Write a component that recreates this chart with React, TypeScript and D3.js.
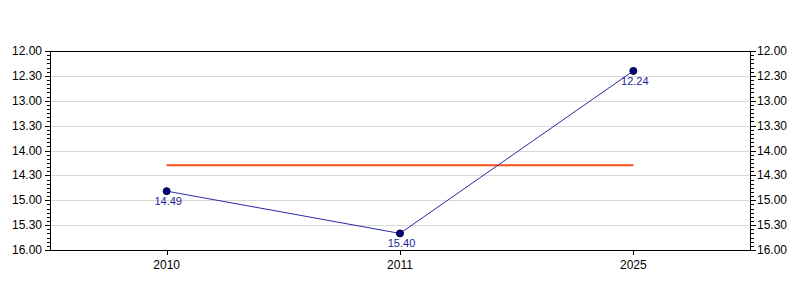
import React from "react";
import * as d3 from "d3";

const years = ["2010", "2011", "2025"];
const times = ["14.49", "15.40", "12.24"];
const yMinHour = 12;
const yMaxHour = 16;

const W = 800;
const H = 300;
const L = 50;
const R = 750;
const T = 51;
const B = 250;

function toMin(s: string): number {
  const [h, m] = s.split(".").map(Number);
  return h * 60 + m;
}
function fmt(v: number): string {
  const h = Math.floor(v / 60);
  const m = Math.round(v - h * 60);
  return `${h}.${String(m).padStart(2, "0")}`;
}

export default function App() {
  const x = d3.scaleBand<string>().domain(years).range([L, R]);
  const y = d3.scaleLinear().domain([yMinHour * 60, yMaxHour * 60]).range([T, B]);
  const vals = times.map(toMin);
  const avg = d3.mean(vals) as number;
  const cx = (d: string) => (x(d) as number) + x.bandwidth() / 2;

  const major = d3.range(yMinHour * 60, yMaxHour * 60 + 1, 30);
  const minor = d3.range(yMinHour * 60, yMaxHour * 60 + 1, 5).filter((v) => v % 30 !== 0);

  const line = d3
    .line<number>()
    .x((_, i) => cx(years[i]))
    .y((v) => y(v));

  const font = "Arial, 'Liberation Sans', sans-serif";

  return (
    <svg width={W} height={H} style={{ position: "absolute", left: 0, top: 0, background: "#fff" }} fontFamily={font}>
      <rect x={0} y={0} width={W} height={H} fill="#fff" />
      {major.slice(1, -1).map((v) => (
        <line key={"g" + v} x1={L} x2={R} y1={Math.round(y(v)) + 0.5} y2={Math.round(y(v)) + 0.5} stroke="#d9d9d9" />
      ))}
      {/* frame */}
      <rect x={L + 0.5} y={T + 0.5} width={R - L} height={B - T} fill="none" stroke="#000" />
      {/* left axis ticks */}
      {major.map((v) => (
        <g key={"lm" + v}>
          <line x1={L - 5} x2={L} y1={Math.round(y(v)) + 0.5} y2={Math.round(y(v)) + 0.5} stroke="#000" />
          <line x1={R} x2={R + 6} y1={Math.round(y(v)) + 0.5} y2={Math.round(y(v)) + 0.5} stroke="#000" />
          <text x={L - 8} y={y(v) + 4} fontSize={12} textAnchor="end" fill="#000">
            {fmt(v)}
          </text>
          <text x={R + 7} y={y(v) + 4} fontSize={12} textAnchor="start" fill="#000">
            {fmt(v)}
          </text>
        </g>
      ))}
      {minor.map((v) => (
        <g key={"mn" + v}>
          <line x1={L - 3} x2={L} y1={Math.round(y(v)) + 0.5} y2={Math.round(y(v)) + 0.5} stroke="#000" />
          <line x1={R} x2={R + 4} y1={Math.round(y(v)) + 0.5} y2={Math.round(y(v)) + 0.5} stroke="#000" />
        </g>
      ))}
      {/* bottom ticks */}
      {years.map((d) => (
        <g key={"x" + d}>
          <line x1={Math.round(cx(d)) + 0.5} x2={Math.round(cx(d)) + 0.5} y1={B} y2={B + 5} stroke="#000" />
          <text x={cx(d)} y={B + 19} fontSize={12} textAnchor="middle" fill="#000">
            {d}
          </text>
        </g>
      ))}
      {/* average line */}
      <line x1={cx(years[0])} x2={cx(years[years.length - 1])} y1={y(avg)} y2={y(avg)} stroke="#ff4f14" strokeWidth={2} />
      {/* series */}
      <path d={line(vals) as string} fill="none" stroke="#2a2aa8" strokeWidth={1} />
      {vals.map((v, i) => (
        <g key={"p" + i}>
          <circle cx={cx(years[i])} cy={y(v)} r={3.5} fill="#000080" stroke="#000033" strokeWidth={1} />
          <text x={cx(years[i]) + 1.5} y={y(v) + 14} fontSize={11} textAnchor="middle" fill="#1c1c9c">
            {times[i]}
          </text>
        </g>
      ))}
    </svg>
  );
}
